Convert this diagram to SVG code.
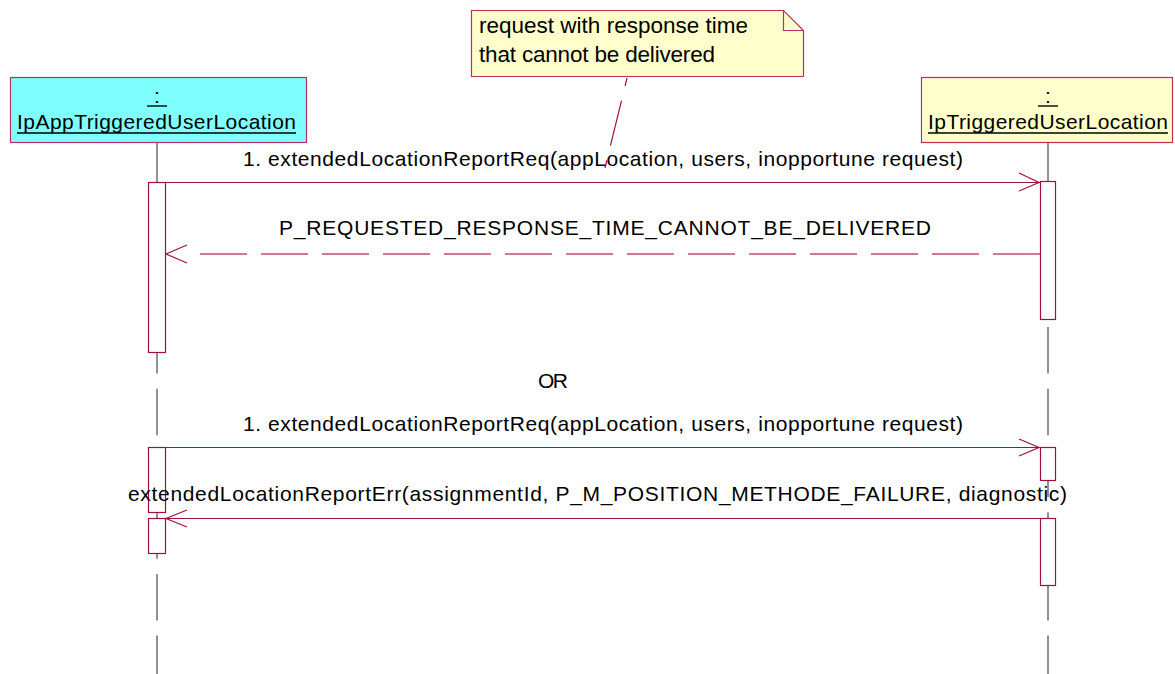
<svg xmlns="http://www.w3.org/2000/svg" width="1175" height="674" viewBox="0 0 1175 674">
<style>
text{font-family:"Liberation Sans",Arial,sans-serif;font-size:21px;fill:#000}
.nt{font-size:22.5px}
.obj{stroke:#b8305a;stroke-width:1.2}
.life{stroke:#707070;stroke-width:1.5;stroke-dasharray:46.5 15.2;fill:none}
.act{fill:#fff;stroke:#a01040;stroke-width:1.2}
.msg{stroke:#a01040;stroke-width:1.2;fill:none}
.ret{stroke:#c04d76;stroke-width:1.5;fill:none;stroke-dasharray:47 14}
.ul{stroke:#000;stroke-width:1.4}
</style>
<rect width="1175" height="674" fill="#fff"/>
<g id="lifelines">
<line class="life" x1="157" y1="142" x2="157" y2="674"/>
<line class="life" x1="1048" y1="142" x2="1048" y2="674"/>
</g>
<g id="obj-app">
<rect class="obj" x="10.5" y="77.5" width="296" height="65" fill="#80ffff"/>
<text x="157" y="103" text-anchor="middle">:</text>
<line class="ul" x1="147" y1="106" x2="167" y2="106"/>
<text x="17" y="129" textLength="279" lengthAdjust="spacing">IpAppTriggeredUserLocation</text>
<line class="ul" x1="17" y1="133" x2="296" y2="133"/>
</g>
<g id="obj-svc">
<rect class="obj" x="921.5" y="77.5" width="251" height="65" fill="#ffffcc"/>
<text x="1048" y="103" text-anchor="middle">:</text>
<line class="ul" x1="1038" y1="106" x2="1058" y2="106"/>
<text x="928" y="129" textLength="240" lengthAdjust="spacing">IpTriggeredUserLocation</text>
<line class="ul" x1="928" y1="133" x2="1168" y2="133"/>
</g>
<g id="note">
<path class="obj" d="M471.5 10.5 H783.5 L803.5 30.5 V76.5 H471.5 Z" fill="#ffffcc"/>
<path class="obj" d="M783.5 10.5 V30.5 H803.5" fill="none"/>
<text class="nt" x="479" y="33" textLength="269" lengthAdjust="spacing">request with response time</text>
<text class="nt" x="479" y="62" textLength="236" lengthAdjust="spacing">that cannot be delivered</text>
</g>
<g id="activations">
<rect class="act" x="148.5" y="182.5" width="17" height="170"/>
<rect class="act" x="1040.5" y="181.5" width="15" height="138"/>
<rect class="act" x="148.5" y="447.5" width="17" height="65"/>
<rect class="act" x="148.5" y="518.5" width="17" height="35"/>
<rect class="act" x="1040.5" y="447.5" width="15" height="33"/>
<rect class="act" x="1040.5" y="518.5" width="15" height="67"/>
</g>
<g id="connectors">
<line x1="627" y1="78" x2="605" y2="168" stroke="#a01040" stroke-width="1.2" stroke-dasharray="46.5 15.2" stroke-dashoffset="38.5"/>
<line class="msg" x1="148" y1="182.5" x2="1040" y2="182.5"/>
<polyline class="msg" points="1019,173 1039,182.5 1019,191" stroke-width="1.5"/>
<line class="ret" x1="1040" y1="254" x2="190" y2="254"/>
<polyline class="msg" points="187,245 166,254 187,263" stroke-width="1.5"/>
<line class="msg" x1="148" y1="447.5" x2="1040" y2="447.5"/>
<polyline class="msg" points="1019,439 1039,447.5 1019,456" stroke-width="1.5"/>
<line class="msg" x1="1040" y1="518.5" x2="166" y2="518.5"/>
<polyline class="msg" points="187,510 166,518.5 187,527" stroke-width="1.5"/>
</g>
<g id="labels">
<text x="243" y="166" textLength="720" lengthAdjust="spacing">1. extendedLocationReportReq(appLocation, users, inopportune request)</text>
<text x="279" y="235" textLength="652" lengthAdjust="spacing">P_REQUESTED_RESPONSE_TIME_CANNOT_BE_DELIVERED</text>
<text x="538" y="388" textLength="30" lengthAdjust="spacing">OR</text>
<text x="243" y="431" textLength="720" lengthAdjust="spacing">1. extendedLocationReportReq(appLocation, users, inopportune request)</text>
<text x="128" y="501" textLength="939" lengthAdjust="spacing">extendedLocationReportErr(assignmentId, P_M_POSITION_METHODE_FAILURE, diagnostic)</text>
</g>
</svg>
